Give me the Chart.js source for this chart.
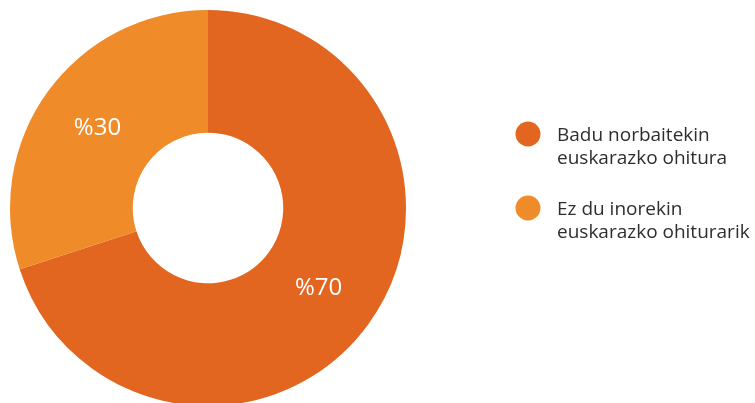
<!DOCTYPE html>
<html>
<head>
<meta charset="utf-8">
<script src="https://cdn.jsdelivr.net/npm/chart.js@4/dist/chart.umd.min.js"></script>
<style>
  html, body { margin: 0; padding: 0; background: #fff; overflow: hidden; }
  #wrap { position: absolute; left: 0; top: 0; width: 755px; height: 420px; }
</style>
</head>
<body>
<div id="wrap"><canvas id="chart" width="755" height="420"></canvas></div>
<script>
const labels = [
  ['Badu norbaitekin', 'euskarazko ohitura'],
  ['Ez du inorekin', 'euskarazko ohiturarik']
];
const values = [70, 30];
const colors = ['#E2661F', '#EF8B29'];

// white percentage labels, placed along each slice's mid angle
const sliceLabels = {
  id: 'sliceLabels',
  afterDatasetsDraw(chart) {
    const ctx = chart.ctx;
    const arcs = chart.getDatasetMeta(0).data;
    ctx.save();
    ctx.fillStyle = '#fff';
    ctx.font = '24px "Open Sans", sans-serif';
    ctx.textAlign = 'center';
    ctx.textBaseline = 'middle';
    arcs.forEach((arc, i) => {
      const p = arc.getProps(['x', 'y', 'startAngle', 'endAngle', 'innerRadius', 'outerRadius']);
      const a = (p.startAngle + p.endAngle) / 2;
      const r = (p.innerRadius + p.outerRadius) / 2;
      ctx.fillText('%' + values[i], p.x + Math.cos(a) * r, p.y + Math.sin(a) * r);
    });
    ctx.restore();
  }
};

const sideLegend = {
  id: 'sideLegend',
  afterDraw(chart) {
    const ctx = chart.ctx;
    ctx.save();
    ctx.font = '19px "Open Sans", sans-serif';
    ctx.textAlign = 'left';
    ctx.textBaseline = 'alphabetic';
    labels.forEach((lines, i) => {
      const y = 134 + i * 74;
      ctx.fillStyle = colors[i];
      ctx.beginPath();
      ctx.arc(528, y, 12.5, 0, Math.PI * 2);
      ctx.fill();
      ctx.fillStyle = '#2e2e2e';
      lines.forEach((t, j) => ctx.fillText(t, 557, y + 7 + j * 23));
    });
    ctx.restore();
  }
};

new Chart(document.getElementById('chart'), {
  type: 'doughnut',
  data: {
    labels: labels,
    datasets: [{
      data: values,
      backgroundColor: colors,
      borderWidth: 0
    }]
  },
  options: {
    responsive: false,
    animation: false,
    cutout: '38%',
    layout: { padding: { left: 10, top: 10, right: 349, bottom: 14 } },
    plugins: {
      legend: { display: false },
      tooltip: { enabled: false }
    }
  },
  plugins: [sliceLabels, sideLegend]
});
</script>
</body>
</html>
